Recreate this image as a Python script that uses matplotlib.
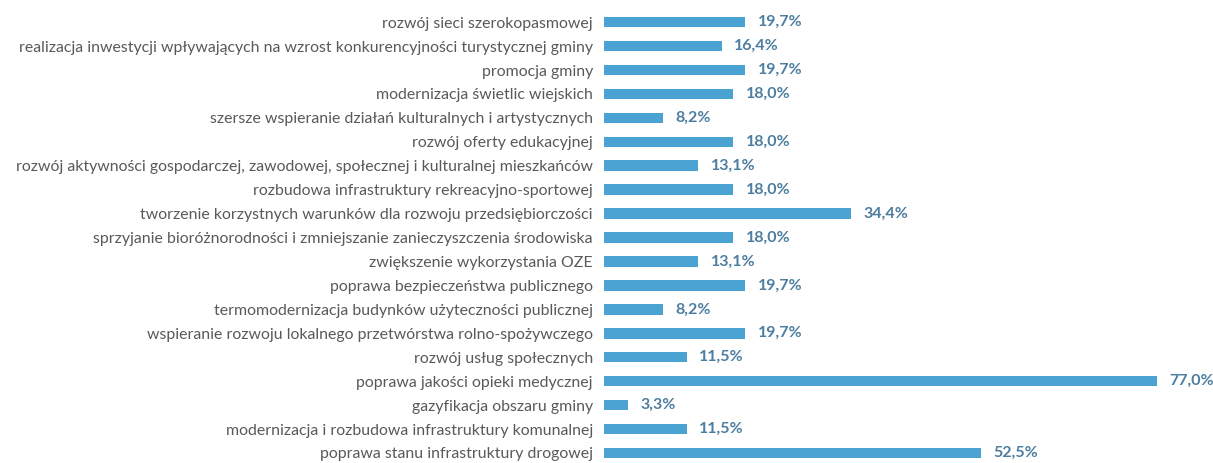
import matplotlib
matplotlib.use("Agg")
import matplotlib.pyplot as plt

categories = [
    "rozwój sieci szerokopasmowej",
    "realizacja inwestycji wpływających na wzrost konkurencyjności turystycznej gminy",
    "promocja gminy",
    "modernizacja świetlic wiejskich",
    "szersze wspieranie działań kulturalnych i artystycznych",
    "rozwój oferty edukacyjnej",
    "rozwój aktywności gospodarczej, zawodowej, społecznej i kulturalnej mieszkańców",
    "rozbudowa infrastruktury rekreacyjno-sportowej",
    "tworzenie korzystnych warunków dla rozwoju przedsiębiorczości",
    "sprzyjanie bioróżnorodności i zmniejszanie zanieczyszczenia środowiska",
    "zwiększenie wykorzystania OZE",
    "poprawa bezpieczeństwa publicznego",
    "termomodernizacja budynków użyteczności publicznej",
    "wspieranie rozwoju lokalnego przetwórstwa rolno-spożywczego",
    "rozwój usług społecznych",
    "poprawa jakości opieki medycznej",
    "gazyfikacja obszaru gminy",
    "modernizacja i rozbudowa infrastruktury komunalnej",
    "poprawa stanu infrastruktury drogowej",
]
values = [19.7, 16.4, 19.7, 18.0, 8.2, 18.0, 13.1, 18.0, 34.4, 18.0,
          13.1, 19.7, 8.2, 19.7, 11.5, 77.0, 3.3, 11.5, 52.5]
value_labels = [f"{v:.1f}%".replace(".", ",") for v in values]

plt.rcParams['font.family'] = ['Lato', 'DejaVu Sans']

fig = plt.figure(figsize=(12.13, 4.63), dpi=100)
ax = fig.add_axes([0.498, 0.0, 0.50, 0.978])
y = list(range(len(categories)))
ax.barh(y, values, height=0.44, color="#4BA3D3")
ax.set_xlim(0, 84.5)
ax.set_ylim(18.42, -0.5)
ax.set_yticks(y)
ax.set_yticklabels(categories, fontsize=11.4, color="#595959")
ax.tick_params(axis="y", length=0, pad=8)
ax.set_xticks([])
for s in ax.spines.values():
    s.set_visible(False)
for yi, v, lab in zip(y, values, value_labels):
    ax.annotate(lab, (v, yi), xytext=(9, 0), textcoords="offset points",
                va="center", ha="left", fontsize=11.5, color="#4d7ea0",
                fontweight="bold")
fig.savefig("out.png", dpi=100)
